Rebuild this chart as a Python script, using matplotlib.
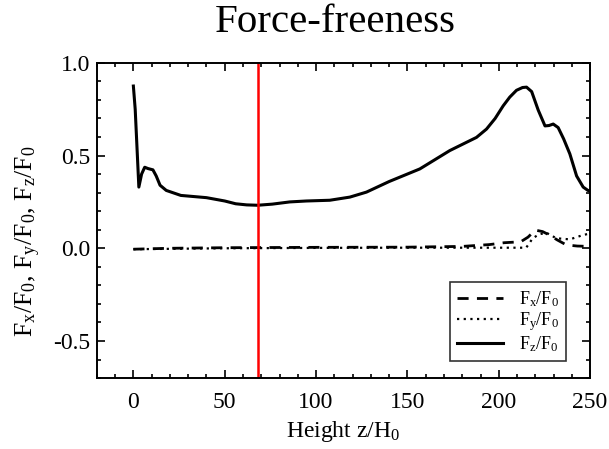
import numpy as np
import matplotlib
matplotlib.use('Agg')
import matplotlib.pyplot as plt

# values
height_z = [0, 1, 3, 4.5, 6.2, 8, 10.7, 12.5, 14.6, 18, 26, 40, 50, 56, 62, 68, 76, 85.6, 94.7,
            107.5, 118.5, 127.6, 140, 156.8, 173.2, 187.8, 193.3, 198, 202.4, 206, 209.7, 213,
            215.2, 218, 221.6, 225.3, 227.5, 229.8, 232.5, 235.5, 238.9, 242.6, 246.2, 248.8, 250]
fz = [0.875, 0.75, 0.33, 0.40, 0.437, 0.43, 0.423, 0.39, 0.34, 0.312, 0.285, 0.273, 0.255,
      0.24, 0.234, 0.232, 0.238, 0.25, 0.255, 0.259, 0.276, 0.303, 0.36, 0.428, 0.527, 0.598,
      0.643, 0.70, 0.768, 0.815, 0.852, 0.867, 0.869, 0.845, 0.745, 0.66, 0.662, 0.67, 0.651,
      0.59, 0.509, 0.39, 0.33, 0.312, 0.31]

height_x = [0, 20, 50, 100, 150, 180, 195, 203, 212, 216, 220, 224, 228, 232, 237, 243, 250]
fx = [-0.005, 0.0, 0.003, 0.005, 0.006, 0.01, 0.02, 0.03, 0.035, 0.06, 0.098, 0.09,
      0.07, 0.045, 0.018, 0.012, 0.01]

height_y = [0, 50, 100, 150, 200, 215, 218.6, 222, 226, 231.5, 238.9, 246, 250]
fy = [-0.005, 0.0, 0.002, 0.003, 0.003, 0.003, 0.054, 0.075, 0.084, 0.054, 0.048, 0.071, 0.08]

marker_height = 68

plt.rcParams['font.family'] = 'Liberation Serif'
plt.rcParams['mathtext.fontset'] = 'custom'
plt.rcParams['mathtext.rm'] = 'Liberation Serif'
plt.rcParams['mathtext.it'] = 'Liberation Serif:italic'

fig = plt.figure(figsize=(6.09, 4.49), dpi=100)
ax = fig.add_axes([0.159, 0.158, 0.81, 0.702])

ax.plot(height_x, fx, color='black', lw=2.0, ls=(0, (4, 3)), label=r'F$_\mathrm{x}$/F$_\mathrm{0}$')
ax.plot(height_y, fy, color='black', lw=1.6, ls=(0, (1, 2)), label=r'F$_\mathrm{y}$/F$_\mathrm{0}$')
ax.plot(height_z, fz, color='black', lw=2.2, label=r'F$_\mathrm{z}$/F$_\mathrm{0}$')
ax.axvline(marker_height, color='red', lw=1.8)

ax.set_xlim(-20, 250)
ax.set_ylim(-0.7, 1.0)
ax.set_xticks([0, 50, 100, 150, 200, 250])
ax.set_xticks(np.arange(-20, 251, 10), minor=True)
ax.set_yticks([-0.5, 0.0, 0.5, 1.0])
ax.set_yticks(np.arange(-0.7, 1.01, 0.1), minor=True)
ax.set_yticklabels(['-0.5', '0.0', '0.5', '1.0'])
ax.tick_params(which='both', direction='in', top=True, right=True, width=1.2, labelsize=17)
ax.tick_params(which='major', length=6)
ax.tick_params(which='minor', length=3)
ax.tick_params(axis='x', which='major', pad=10)
ax.tick_params(axis='y', which='major', pad=5)
for s in ax.spines.values():
    s.set_linewidth(1.4)

ax.set_title('Force-freeness', fontsize=29.5, pad=22, x=0.483)
ax.set_xlabel(r'Height z/H$_\mathrm{0}$', fontsize=17, labelpad=4)
ax.set_ylabel(r'F$_\mathrm{x}$/F$_\mathrm{0}$, F$_\mathrm{y}$/F$_\mathrm{0}$, F$_\mathrm{z}$/F$_\mathrm{0}$',
              fontsize=18.5)
ax.yaxis.set_label_coords(-0.11, 0.435)

leg = ax.legend(loc='lower right', fontsize=13, frameon=True, fancybox=False,
                edgecolor='black', handlelength=2.5, handletextpad=0.9,
                borderpad=0.4, labelspacing=0.05, borderaxespad=0,
                bbox_to_anchor=(0.951, 0.054))
leg.get_frame().set_linewidth(1.2)

fig.savefig('out.png', dpi=100)
